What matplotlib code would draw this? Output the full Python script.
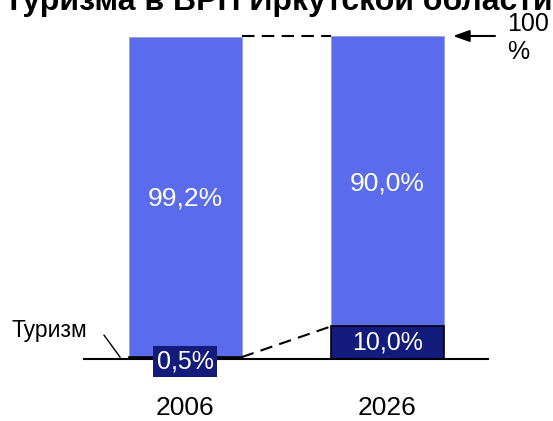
import matplotlib
matplotlib.use("Agg")
import matplotlib.pyplot as plt

plt.rcParams['font.family'] = ['Liberation Sans', 'DejaVu Sans']

years = ["2006", "2026"]
tourism = [0.5, 10.0]
other = [99.2, 90.0]
tourism_labels = ["0,5%", "10,0%"]
other_labels = ["99,2%", "90,0%"]
title = "Туризма в ВРП Иркутской области"

BLUE = "#5A6BEB"
NAVY = "#131C7C"

fig = plt.figure(figsize=(5.53, 4.21), dpi=100)
ax = fig.add_axes([0, 0, 1, 1])
ax.set_xlim(-0.917, 1.820)
ax.set_ylim(-19.3, 111.15)
ax.axis("off")

x = [0, 1]
w = 0.559
ax.bar(x, other, bottom=tourism, width=w, color=BLUE, edgecolor="#9aa0c8", linewidth=0.6, zorder=2)
ax.bar(x, tourism, width=w, color=NAVY, edgecolor="black", linewidth=1.2, zorder=3)

# baseline
ax.plot([-0.5, 1.5], [0, 0], color="black", lw=1.5, zorder=4)

# labels for other segment (baseline positions)
label_y = [47.6, 52.1]
for xi, yv, lab in zip(x, label_y, other_labels):
    ax.text(xi, yv, lab, color="white", fontsize=19, ha="center", va="baseline", zorder=5)

# tourism labels
ax.text(x[0], -3.0, tourism_labels[0], color="white", fontsize=18, ha="center", va="baseline",
        zorder=6, bbox=dict(boxstyle="square,pad=0.14", fc=NAVY, ec="none"))
ax.text(x[1], 2.7, tourism_labels[1], color="white", fontsize=18,
        ha="center", va="baseline", zorder=6)

# dashed connectors
ax.plot([x[0] + w / 2, x[1] - w / 2], [100, 100], color="black", lw=1.5,
        ls=(0, (6, 3.5)), zorder=4)
ax.plot([x[0] + w / 2, x[1] - w / 2], [tourism[0], tourism[1]], color="black", lw=1.5,
        ls=(0, (6, 3.5)), zorder=4)

# 100% arrow
ax.annotate("", xy=(1.325, 100), xytext=(1.533, 100),
            arrowprops=dict(arrowstyle="-|>,head_length=0.7,head_width=0.25", color="black",
                            lw=1.5, mutation_scale=14, shrinkA=0, shrinkB=0))
ax.text(1.595, 99.3, "100\n%", fontsize=18, ha="left", va="center", linespacing=1.2)

# Туризм label
ax.text(-0.858, 8.6, "Туризм", fontsize=16.5, ha="left", va="center")
ax.plot([-0.402, -0.323], [7.3, 0.5], color="black", lw=1.0)

# year labels
for xi, yr in zip(x, years):
    ax.text(xi, -15.4, yr, fontsize=19, ha="center", va="center")

# title (partially cut at the top)
ax.text(0.459, 108.0, title, fontsize=23, fontweight="bold", ha="center", va="baseline")

fig.savefig("out.png", dpi=100)
